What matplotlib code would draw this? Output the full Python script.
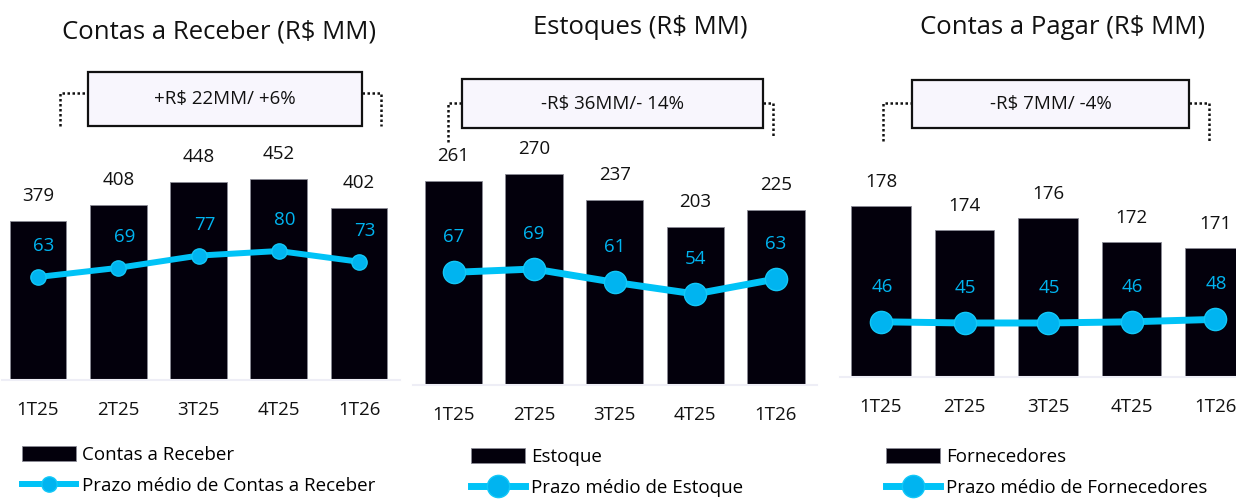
import matplotlib
matplotlib.use("Agg")
import matplotlib.pyplot as plt
from matplotlib.lines import Line2D
from matplotlib.patches import Rectangle

plt.rcParams['font.family'] = ['Open Sans', 'DejaVu Sans']

W, H = 1236, 499
BAR_COLOR = "#03000C"
CYAN = "#00B4F0"

quarters = ["1T25", "2T25", "3T25", "4T25", "1T26"]

receber = [379, 408, 448, 452, 402]
prazo_receber = [63, 69, 77, 80, 73]
estoque = [261, 270, 237, 203, 225]
prazo_estoque = [67, 69, 61, 54, 63]
fornecedores = [178, 174, 176, 172, 171]
prazo_fornecedores = [46, 45, 45, 46, 48]

titles = ["Contas a Receber (R$ MM)", "Estoques (R$ MM)", "Contas a Pagar (R$ MM)"]
box_texts = ["+R$ 22MM/ +6%", "-R$ 36MM/- 14%", "-R$ 7MM/ -4%"]
bar_names = ["Contas a Receber", "Estoque", "Fornecedores"]
line_names = ["Prazo médio de Contas a Receber", "Prazo médio de Estoque",
              "Prazo médio de Fornecedores"]

fig = plt.figure(figsize=(W / 100, H / 100), dpi=100)


def fx(px):
    return px / W


def fy(py):
    return 1 - py / H


# layout per panel (pixels)
panels = [
    dict(bars=receber, line=prazo_receber, c0=38, step=80.25, left=2, right=400,
         top=100, bottom=380, ylim=(103, 590), y2lim=(-4.3, 178.7),
         ms=11, lw=4.3, bar_off=25, line_off=31, line_dx=6,
         title=(219, 32), box=(88, 72, 362, 126), brk=(60, 381, 93, 126, 126),
         leg=(22, 446)),
    dict(bars=estoque, line=prazo_estoque, c0=453.5, step=80.6, left=413, right=817,
         top=100, bottom=385, ylim=(3.3, 363.6), y2lim=(-0.6, 170.4),
         ms=16, lw=5, bar_off=25, line_off=35, line_dx=0,
         title=(640, 28), box=(462, 79, 763, 128), brk=(448, 773, 103, 142, 138),
         leg=(471, 448)),
    dict(bars=fornecedores, line=prazo_fornecedores, c0=881, step=83.5, left=840, right=1236,
         top=100, bottom=377, ylim=(149.5, 195.7), y2lim=(0, 230.8),
         ms=16, lw=5, bar_off=24, line_off=35, line_dx=1,
         title=(1063, 27), box=(912, 80, 1189, 128), brk=(883, 1209, 103, 141, 141),
         leg=(886, 448)),
]

for i, p in enumerate(panels):
    ax = fig.add_axes([fx(p["left"]), fy(p["bottom"]),
                       (p["right"] - p["left"]) / W, (p["bottom"] - p["top"]) / H])
    x = list(range(len(quarters)))
    bars = ax.bar(x, p["bars"], width=0.71, color=BAR_COLOR, edgecolor="#8a8a95",
                  linewidth=0.6, label=bar_names[i], zorder=2)
    ax.set_xlim((p["left"] - p["c0"]) / p["step"], (p["right"] - p["c0"]) / p["step"])
    ax.set_ylim(*p["ylim"])
    for xi, v in zip(x, p["bars"]):
        ax.annotate(str(v), (xi, v), xytext=(0, p["bar_off"]), textcoords="offset pixels",
                    ha="center", va="center", fontsize=13.5, color="#111111")
    ax.set_xticks(x)
    ax.set_xticklabels(quarters, fontsize=13.5, color="#111111")
    ax.tick_params(axis="x", length=0, pad=15)
    ax.set_yticks([])
    for s in ["top", "left", "right"]:
        ax.spines[s].set_visible(False)
    ax.spines["bottom"].set_color("#EEEEF6")
    ax.spines["bottom"].set_linewidth(1.5)

    ax2 = ax.twinx()
    ax2.set_ylim(*p["y2lim"])
    ln, = ax2.plot(x, p["line"], color="#00C3F7", lw=p["lw"], marker="o",
                   markersize=p["ms"], markerfacecolor=CYAN, markeredgecolor="#12C8F8",
                   markeredgewidth=1, label=line_names[i], zorder=3)
    for xi, v in zip(x, p["line"]):
        ax2.annotate(str(v), (xi, v), xytext=(p["line_dx"], p["line_off"]),
                     textcoords="offset pixels", ha="center", va="center",
                     fontsize=13.5, color=CYAN)
    ax2.set_yticks([])
    ax2.axis("off")

    # title
    fig.text(fx(p["title"][0]), fy(p["title"][1]), titles[i], ha="center", va="center",
             fontsize=18.5, color="#111111")

    # variation box
    bx0, by0, bx1, by1 = p["box"]
    fig.patches.append(Rectangle((fx(bx0), fy(by1)), (bx1 - bx0) / W, (by1 - by0) / H,
                                 transform=fig.transFigure, facecolor="#F8F6FD",
                                 edgecolor="#111111", linewidth=1.6, zorder=5))
    fig.text(fx((bx0 + bx1) / 2), fy((by0 + by1) / 2), box_texts[i], ha="center",
             va="center", fontsize=13.5, color="#111111", zorder=6)

    # dotted brackets
    lx, rx, ty, lby, rby = p["brk"]
    fig.lines.append(Line2D([fx(lx), fx(lx), fx(bx0)], [fy(lby), fy(ty), fy(ty)],
                            transform=fig.transFigure, color="#111111", lw=1.8,
                            linestyle=(0, (1, 1))))
    fig.lines.append(Line2D([fx(bx1), fx(rx), fx(rx)], [fy(ty), fy(ty), fy(rby)],
                            transform=fig.transFigure, color="#111111", lw=1.8,
                            linestyle=(0, (1, 1))))

    # legend
    fig.legend(handles=[bars, ln], loc="upper left",
               bbox_to_anchor=(fx(p["leg"][0]), fy(p["leg"][1])), frameon=False,
               fontsize=13.5, handlelength=2.9, handleheight=0.85, handletextpad=0.3,
               labelspacing=0.7, borderpad=0, borderaxespad=0)

fig.savefig("out.png", dpi=100)
